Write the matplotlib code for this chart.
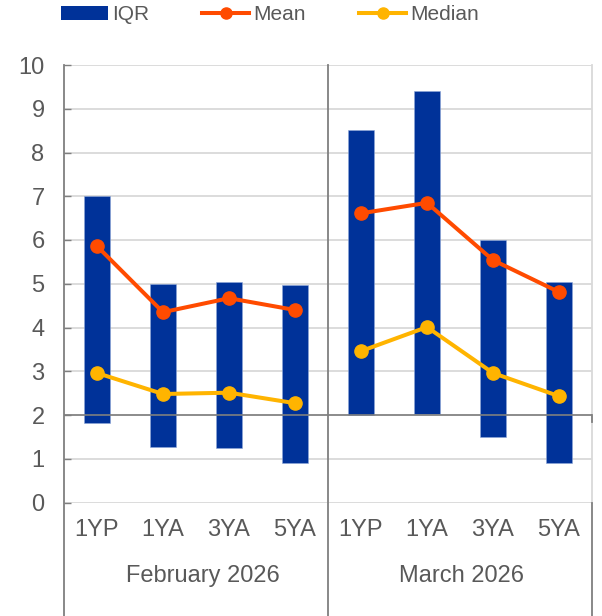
import matplotlib.pyplot as plt
import matplotlib.transforms as mtransforms
from matplotlib.patches import Patch
from matplotlib.lines import Line2D
import numpy as np

plt.rcParams['font.family'] = ['Liberation Sans', 'DejaVu Sans']

# dados
grupos = ['February 2026', 'March 2026']
categorias = ['1YP', '1YA', '3YA', '5YA']

iqr_baixo_fev = [1.82, 1.28, 1.24, 0.90]
iqr_alto_fev = [7.00, 5.00, 5.04, 4.98]
iqr_baixo_mar = [2.00, 2.03, 1.50, 0.91]
iqr_alto_mar = [8.51, 9.40, 5.99, 5.03]

media_fev = [5.86, 4.35, 4.67, 4.40]
media_mar = [6.61, 6.85, 5.54, 4.81]
mediana_fev = [2.96, 2.48, 2.51, 2.27]
mediana_mar = [3.46, 4.01, 2.96, 2.43]

azul = '#003299'
laranja = '#FF4B00'
amarelo = '#FFB400'
cinza_txt = '#595959'
cinza_eixo = '#7F7F7F'
cinza_grade = '#D9D9D9'
fs = 17
fs_leg = 15

W, H = 602, 616
fig = plt.figure(figsize=(W / 100, H / 100), dpi=100)
ax = fig.add_axes([64 / W, (H - 502.5) / H, (592 - 64) / W, (502.5 - 65) / H])

n = len(categorias)
x_fev = np.arange(n)
x_mar = np.arange(n) + n
largura = 0.39

baixo = np.array(iqr_baixo_fev + iqr_baixo_mar)
alto = np.array(iqr_alto_fev + iqr_alto_mar)
xs = np.concatenate([x_fev, x_mar])
ax.bar(xs, alto - baixo, largura, bottom=baixo, color=azul,
       edgecolor='#8FA8D8', linewidth=0.4, zorder=2)

for xg, med, mdn in [(x_fev, media_fev, mediana_fev), (x_mar, media_mar, mediana_mar)]:
    ax.plot(xg, med, color=laranja, lw=2.9, marker='o', ms=9.5, zorder=4)
    ax.plot(xg, mdn, color=amarelo, lw=2.9, marker='o', ms=9.5, zorder=4)

ax.set_xlim(-0.5, 2 * n - 0.5)
ax.set_ylim(0, 10)
ax.set_yticks(range(0, 11))
ax.grid(axis='y', color=cinza_grade, lw=1.3, zorder=0)
ax.set_axisbelow(True)
ax.tick_params(axis='y', direction='in', length=5, width=1, color=cinza_eixo,
               labelsize=fs, labelcolor=cinza_txt, pad=14)
ax.set_xticks([])
for s in ['top', 'bottom', 'left', 'right']:
    ax.spines[s].set_visible(False)

# eixo horizontal em y=2
ax.axhline(2, color=cinza_eixo, lw=1.2, zorder=3)

# linhas verticais (borda, separador) que descem ate o fim da figura
trans = mtransforms.blended_transform_factory(ax.transData, fig.transFigure)
y_topo = (H - 65) / H
y_zero = (H - 502.5) / H
for xv in [-0.5, n - 0.5]:
    ax.add_line(Line2D([xv, xv], [0, y_topo], transform=trans, color=cinza_eixo,
                       lw=1.3, clip_on=False, zorder=5))
xd = 2 * n - 0.5
ax.add_line(Line2D([xd, xd], [y_zero, y_topo], transform=trans, color=cinza_grade,
                   lw=1.3, clip_on=False, zorder=1))
ax.add_line(Line2D([xd, xd], [0, y_zero], transform=trans, color=cinza_eixo,
                   lw=1.3, clip_on=False, zorder=5))
# pequena marca na ponta direita do eixo em y=2
ax.add_line(Line2D([xd, xd], [(H - 415) / H, (H - 422) / H], transform=trans,
                   color=cinza_eixo, lw=1.3, clip_on=False, zorder=5))

# rotulos das categorias e dos grupos
for i, xv in enumerate(xs):
    ax.text(xv, (H - 530) / H, categorias[i % n], transform=trans, ha='center',
            va='center', fontsize=fs, color=cinza_txt)
desloc = [7, 1.5]  # px, como no original
for g, nome in enumerate(grupos):
    t = trans + mtransforms.ScaledTranslation(desloc[g] / 100, 0, fig.dpi_scale_trans)
    ax.text(g * n + (n - 1) / 2, (H - 576) / H, nome, transform=t, ha='center',
            va='center', fontsize=fs, color=cinza_txt)

handles = [
    Patch(facecolor=azul, edgecolor='none'),
    Line2D([], [], color=laranja, lw=2.9, marker='o', ms=8),
    Line2D([], [], color=amarelo, lw=2.9, marker='o', ms=8),
]
leg = fig.legend(handles, ['IQR', 'Mean', 'Median'], loc='center left',
                 bbox_to_anchor=(61 / W, 1 - 15 / H), ncol=3, frameon=False,
                 fontsize=fs_leg, handlelength=2.26, handletextpad=0.19,
                 columnspacing=2.55, borderpad=0, borderaxespad=0, handleheight=0.62)
for t in leg.get_texts():
    t.set_color(cinza_txt)

fig.savefig('out.png', dpi=100)
